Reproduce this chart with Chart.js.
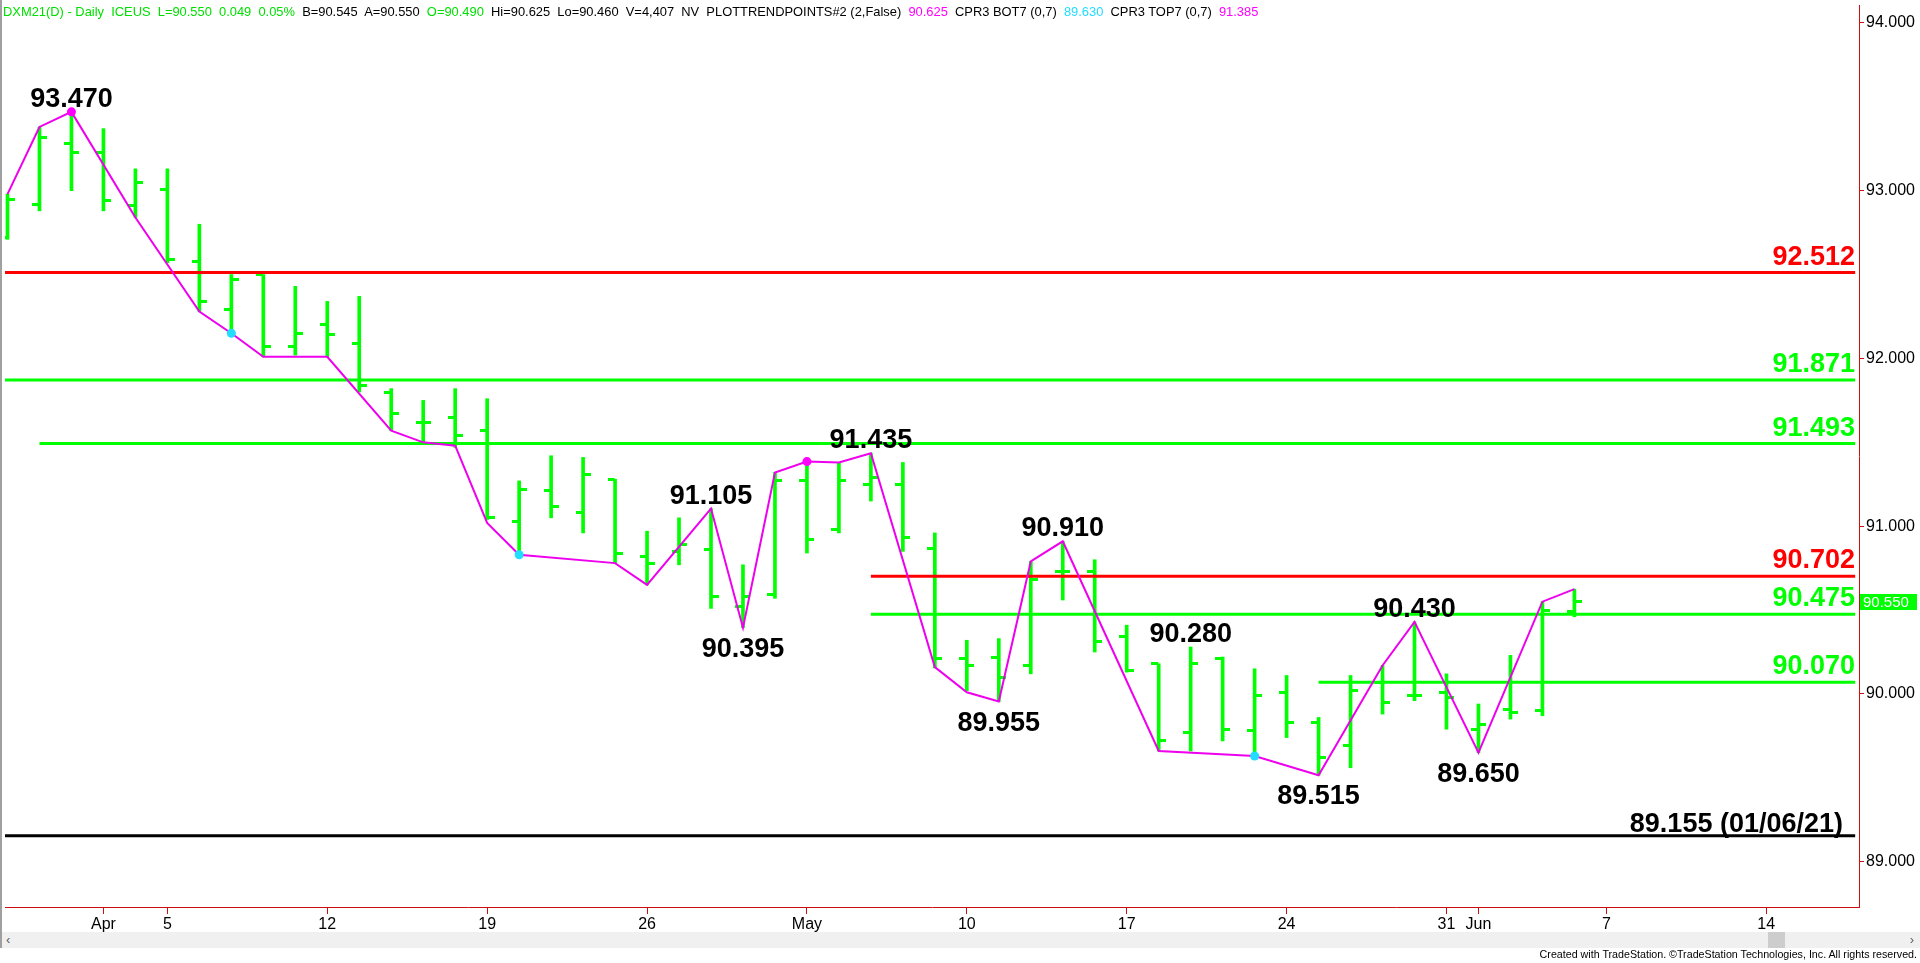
<!DOCTYPE html>
<html>
<head>
<meta charset="utf-8">
<script src="https://cdn.jsdelivr.net/npm/chart.js@4.4.1/dist/chart.umd.min.js"></script>
<style>
  body { margin: 0; background: #fff; overflow: hidden; }
  #wrap { position: relative; width: 1920px; height: 963px; }
  #chart { position: absolute; left: 0; top: 0; }
  #header { position: absolute; left: 3px; top: 4px; font: 12.9px Arial, 'Liberation Sans', sans-serif; white-space: pre; color: #000; }
  #header .g { color: #00e000; }
  #header .m { color: #ff00ff; }
  #header .c { color: #22ddff; }
  #frame { position: absolute; left: 0; top: 0; width: 2px; height: 948px; background: #a0a0a0; }
  #scroll { position: absolute; left: 2px; top: 932px; width: 1918px; height: 16px; background: #f0f0f0; font: 13px Arial, sans-serif; color: #606060; }
  #scroll .l { position: absolute; left: 4px; top: 0; }
  #scroll .r { position: absolute; right: 6px; top: 0; }
  #scroll .thumb { position: absolute; left: 1766px; top: 0; width: 17px; height: 16px; background: #cdcdcd; }
  #credit { position: absolute; right: 3px; top: 948px; font: 10.7px Arial, 'Liberation Sans', sans-serif; color: #000; }
</style>
</head>
<body>
<div id="wrap">
  <canvas id="chart" width="1920" height="963"></canvas>
  <div id="frame"></div>
  <div id="header"><span class="g">DXM21(D) - Daily  ICEUS  L=90.550  0.049  0.05%</span>  B=90.545  A=90.550  <span class="g">O=90.490</span>  Hi=90.625  Lo=90.460  V=4,407  NV  PLOTTRENDPOINTS#2 (2,False)  <span class="m">90.625</span>  CPR3 BOT7 (0,7)  <span class="c">89.630</span>  CPR3 TOP7 (0,7)  <span class="m">91.385</span></div>
  <div id="scroll"><span class="l">&lsaquo;</span><div class="thumb"></div><span class="r">&rsaquo;</span></div>
  <div id="credit">Created with TradeStation. ©TradeStation Technologies, Inc. All rights reserved.</div>
</div>
<script>
// daily bars, index 0 = Mon 29 Mar 2021 (one slot per weekday)
const opens  = [92.72, 92.92, 93.28, 93.23, 92.91, 93.01, 92.58, 92.29, 92.50, 92.07,
                92.20, 92.09, 91.80, 91.62, 91.65, 91.57, 91.03, 91.21, 91.08, 91.28,
                90.82, 90.85, 90.86, 90.52, 90.59, 91.27, 90.98, 91.25, 91.25, 90.87,
                90.21, 90.22, 90.17, 90.73, 90.73, 90.34, 90.18, 89.77, 90.21, 89.78,
                90.01, 89.83, 89.69, 90.07, 89.99, 90.01, 89.79, 89.91, 89.90, 90.49]
const highs  = [92.98, 93.38, 93.47, 93.37, 93.13, 93.13, 92.80, 92.50, 92.50, 92.43,
                92.34, 92.37, 91.82, 91.75, 91.82, 91.76, 91.27, 91.42, 91.41, 91.28,
                90.97, 91.05, 91.105, 90.77, 91.32, 91.385, 91.38, 91.435, 91.38, 90.96,
                90.32, 90.33, 90.79, 90.91, 90.80, 90.41, 90.18, 90.28, 90.22, 90.15,
                90.11, 89.86, 90.11, 90.17, 90.43, 90.12, 89.94, 90.23, 90.55, 90.625]
const lows   = [92.71, 92.88, 93.00, 92.88, 92.84, 92.57, 92.28, 92.15, 92.01, 92.02,
                92.01, 91.80, 91.57, 91.50, 91.47, 91.04, 90.83, 91.05, 90.96, 90.78,
                90.65, 90.77, 90.51, 90.395, 90.57, 90.84, 90.96, 91.15, 90.85, 90.155,
                90.02, 89.955, 90.12, 90.56, 90.25, 90.13, 89.66, 89.66, 89.72, 89.63,
                89.74, 89.515, 89.56, 89.88, 89.96, 89.79, 89.65, 89.85, 89.87, 90.46]
const closes = [92.95, 93.32, 93.23, 92.94, 93.05, 92.59, 92.34, 92.47, 92.07, 92.15,
                92.14, 91.84, 91.67, 91.62, 91.54, 91.05, 91.22, 91.12, 91.31, 90.84,
                90.78, 90.89, 90.58, 90.58, 91.27, 90.92, 91.27, 91.29, 90.93, 90.21,
                90.17, 90.10, 90.68, 90.73, 90.31, 90.14, 89.72, 90.18, 89.79, 89.99,
                89.83, 89.62, 90.02, 89.95, 89.99, 89.98, 89.82, 89.89, 90.50, 90.55]

// PLOTTRENDPOINTS line
const trendIdx = [0, 1, 2, 4, 6, 7, 8, 10, 12, 13, 14, 15, 16, 19, 20, 22, 23, 24, 25, 26,
                  27, 29, 30, 31, 32, 33, 36, 39, 41, 43, 44, 46, 48, 49]
const trendVal = [92.98, 93.38, 93.47, 92.84, 92.28, 92.15, 92.01, 92.01, 91.57, 91.50,
                  91.48, 91.02, 90.83, 90.78, 90.65, 91.105, 90.395, 91.32, 91.385, 91.38,
                  91.435, 90.16, 90.01, 89.955, 90.79, 90.91, 89.66, 89.63, 89.515, 90.17,
                  90.43, 89.65, 90.55, 90.625]

const topDotIdx = [2, 25]
const topDotVal = [93.47, 91.385]
const botDotIdx = [7, 16, 39]
const botDotVal = [92.15, 90.83, 89.63]

const pivotHighIdx = [2, 22, 27, 33, 37, 44]
const pivotHighVal = [93.470, 91.105, 91.435, 90.910, 90.280, 90.430]
const pivotLowIdx  = [23, 31, 41, 46]
const pivotLowVal  = [90.395, 89.955, 89.515, 89.650]

// horizontal levels, start index (null = whole chart)
const levelVal  = [92.512, 91.871, 91.493, 90.702, 90.475, 90.070]
const levelFrom = [null, null, 1, 27, 27, 41]
const levelKind = ['res', 'sup', 'sup', 'res', 'sup', 'sup']
const yearLow = 89.155
const yearLowDate = '01/06/21'

const xTickIdx  = [3, 5, 10, 15, 20, 25, 30, 35, 40, 45, 46, 50, 55]
const xTickText = ['Apr', '5', '12', '19', '26', 'May', '10', '17', '24', '31', 'Jun', '7', '14']
const yTicks = [89, 90, 91, 92, 93, 94]

const X_MIN = -0.078, X_MAX = 57.90
const Y_MIN = 88.730, Y_MAX = 94.107
const GREEN = '#00ff00', RED = '#ff0000', AXIS = '#cc1010', MAGENTA = '#ee00ee', CYAN = '#22ddff'

function tickImg(side) {
  const c = document.createElement('canvas')
  c.width = 15; c.height = 3
  const g = c.getContext('2d')
  g.fillStyle = GREEN
  if (side === 'left') g.fillRect(0, 0, 7, 3)
  else g.fillRect(8, 0, 7, 3)
  return c
}

const levelSets = levelVal.map((v, k) => ({
  type: 'line',
  data: [{ x: levelFrom[k] == null ? X_MIN : levelFrom[k], y: v }, { x: X_MAX - 0.12, y: v }],
  borderColor: levelKind[k] === 'res' ? RED : GREEN,
  borderWidth: 3, pointRadius: 0, order: 3
}))
levelSets.push({
  type: 'line',
  data: [{ x: X_MIN, y: yearLow }, { x: X_MAX - 0.12, y: yearLow }],
  borderColor: '#000', borderWidth: 3, pointRadius: 0, order: 3
})

const labelPlugin = {
  id: 'labels',
  afterDatasetsDraw(chart) {
    const { ctx, scales: { x, y }, chartArea } = chart
    ctx.save()
    ctx.font = 'bold 27px Arial, "Liberation Sans", sans-serif'
    ctx.textAlign = 'center'
    ctx.textBaseline = 'alphabetic'
    ctx.fillStyle = '#000'
    pivotHighIdx.forEach((i, k) => {
      ctx.fillText(pivotHighVal[k].toFixed(3), x.getPixelForValue(i), y.getPixelForValue(pivotHighVal[k]) - 5)
    })
    pivotLowIdx.forEach((i, k) => {
      ctx.fillText(pivotLowVal[k].toFixed(3), x.getPixelForValue(i), y.getPixelForValue(pivotLowVal[k]) + 29)
    })
    ctx.textAlign = 'right'
    levelVal.forEach((v, k) => {
      ctx.fillStyle = levelKind[k] === 'res' ? RED : GREEN
      ctx.fillText(v.toFixed(3), chartArea.right - 4, y.getPixelForValue(v) - 8)
    })
    ctx.fillStyle = '#000'
    ctx.fillText(yearLow.toFixed(3) + ' (' + yearLowDate + ')', chartArea.right - 16, y.getPixelForValue(yearLow) - 4)

    // last price tag
    const last = closes[closes.length - 1]
    const py = Math.round(y.getPixelForValue(last))
    ctx.fillStyle = GREEN
    ctx.fillRect(chartArea.right + 1, py - 8, 57, 16)
    ctx.fillStyle = '#fff'
    ctx.font = '15px Arial, "Liberation Sans", sans-serif'
    ctx.textAlign = 'left'
    ctx.textBaseline = 'middle'
    ctx.fillText(last.toFixed(3), chartArea.right + 4, py + 1)
    ctx.restore()
  }
}

new Chart(document.getElementById('chart'), {
  data: {
    datasets: [
      {
        type: 'bar',
        data: highs.map((h, i) => ({ x: i, y: [lows[i], h] })),
        backgroundColor: GREEN, barThickness: 3, borderWidth: 0, order: 6
      },
      {
        type: 'scatter',
        data: opens.map((o, i) => ({ x: i, y: o })),
        pointStyle: tickImg('left'), pointRadius: 3, order: 5
      },
      {
        type: 'scatter',
        data: closes.map((c, i) => ({ x: i, y: c })),
        pointStyle: tickImg('right'), pointRadius: 3, order: 5
      },
      ...levelSets,
      {
        type: 'line',
        data: trendIdx.map((i, k) => ({ x: i, y: trendVal[k] })),
        borderColor: MAGENTA, borderWidth: 2, pointRadius: 0, tension: 0, order: 2
      },
      {
        type: 'scatter',
        data: topDotIdx.map((i, k) => ({ x: i, y: topDotVal[k] })),
        backgroundColor: '#ff00ff', borderWidth: 0, pointRadius: 4.5, order: 1
      },
      {
        type: 'scatter',
        data: botDotIdx.map((i, k) => ({ x: i, y: botDotVal[k] })),
        backgroundColor: CYAN, borderWidth: 0, pointRadius: 4.5, order: 1
      }
    ]
  },
  options: {
    responsive: false,
    animation: false,
    events: [],
    layout: { padding: 0 },
    plugins: { legend: { display: false }, tooltip: { enabled: false } },
    scales: {
      x: {
        type: 'linear', position: 'bottom', min: X_MIN, max: X_MAX, offset: false,
        afterBuildTicks: s => { s.ticks = xTickIdx.map(v => ({ value: v })) },
        afterFit: s => { s.height = 56; s.paddingLeft = 0; s.paddingRight = 0 },
        grid: { drawOnChartArea: false, drawTicks: true, tickLength: 7, color: AXIS, offset: false },
        border: { color: AXIS, width: 1 },
        ticks: {
          autoSkip: false, maxRotation: 0, padding: 1, color: '#000',
          font: { family: 'Arial, "Liberation Sans", sans-serif', size: 16 },
          callback: v => xTickText[xTickIdx.indexOf(v)]
        }
      },
      y: {
        type: 'linear', position: 'right', min: Y_MIN, max: Y_MAX,
        afterBuildTicks: s => { s.ticks = yTicks.map(v => ({ value: v })) },
        afterFit: s => { s.width = 61; s.paddingTop = 0; s.paddingBottom = 0 },
        grid: { drawOnChartArea: false, drawTicks: true, tickLength: 5, color: AXIS },
        border: { color: AXIS, width: 1 },
        ticks: {
          padding: 2, color: '#000',
          font: { family: 'Arial, "Liberation Sans", sans-serif', size: 16 },
          callback: v => v.toFixed(3)
        }
      }
    }
  },
  plugins: [labelPlugin]
})
</script>
</body>
</html>
